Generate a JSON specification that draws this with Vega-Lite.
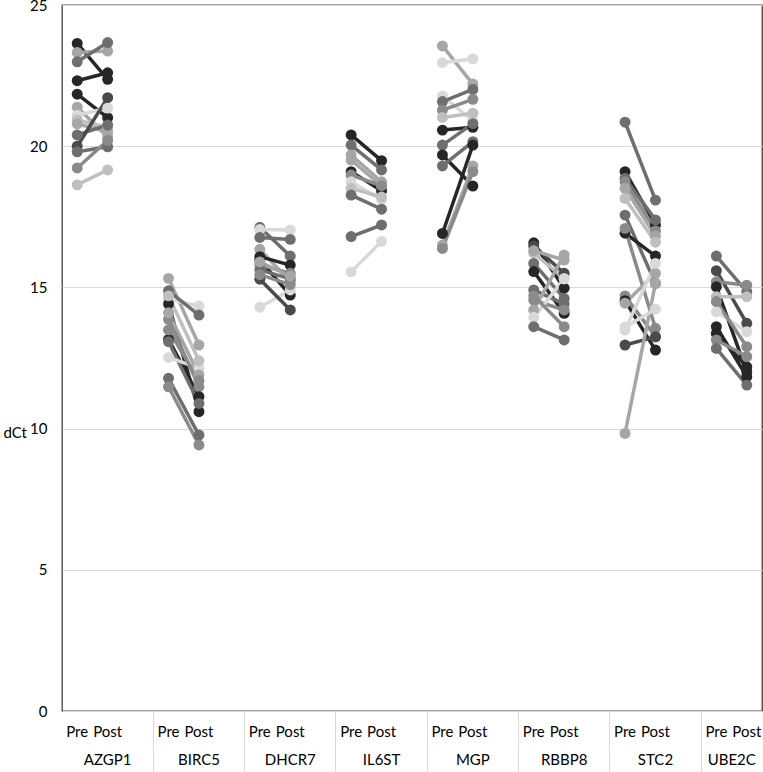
{
  "$schema": "https://vega.github.io/schema/vega-lite/v6.json",
  "autosize": {"type": "none"},
  "width": 700,
  "height": 706,
  "padding": {"left": 62, "top": 5, "right": 1, "bottom": 61},
  "background": "white",
  "config": {"view": {"stroke": "#404040", "strokeWidth": 1.3}, "font": "Lato"},
  "data": {"values": [
    {"g":"AZGP1","p":"P01","s":"AZGP1 Pre","v":23.64},{"g":"AZGP1","p":"P01","s":"AZGP1 Post","v":22.37},
    {"g":"AZGP1","p":"P12","s":"AZGP1 Pre","v":23.32},{"g":"AZGP1","p":"P12","s":"AZGP1 Post","v":23.37},
    {"g":"AZGP1","p":"P06","s":"AZGP1 Pre","v":22.99},{"g":"AZGP1","p":"P06","s":"AZGP1 Post","v":23.67},
    {"g":"AZGP1","p":"P02","s":"AZGP1 Pre","v":22.32},{"g":"AZGP1","p":"P02","s":"AZGP1 Post","v":22.6},
    {"g":"AZGP1","p":"P03","s":"AZGP1 Pre","v":21.84},{"g":"AZGP1","p":"P03","s":"AZGP1 Post","v":21.01},
    {"g":"AZGP1","p":"P13","s":"AZGP1 Pre","v":21.38},{"g":"AZGP1","p":"P13","s":"AZGP1 Post","v":20.33},
    {"g":"AZGP1","p":"P17","s":"AZGP1 Pre","v":21.1},{"g":"AZGP1","p":"P17","s":"AZGP1 Post","v":21.35},
    {"g":"AZGP1","p":"P15","s":"AZGP1 Pre","v":20.93},{"g":"AZGP1","p":"P15","s":"AZGP1 Post","v":20.66},
    {"g":"AZGP1","p":"P14","s":"AZGP1 Pre","v":20.79},{"g":"AZGP1","p":"P14","s":"AZGP1 Post","v":20.51},
    {"g":"AZGP1","p":"P07","s":"AZGP1 Pre","v":20.4},{"g":"AZGP1","p":"P07","s":"AZGP1 Post","v":20.75},
    {"g":"AZGP1","p":"P04","s":"AZGP1 Pre","v":20.0},{"g":"AZGP1","p":"P04","s":"AZGP1 Post","v":21.72},
    {"g":"AZGP1","p":"P08","s":"AZGP1 Pre","v":19.8},{"g":"AZGP1","p":"P08","s":"AZGP1 Post","v":19.98},
    {"g":"AZGP1","p":"P09","s":"AZGP1 Pre","v":19.23},{"g":"AZGP1","p":"P09","s":"AZGP1 Post","v":20.2},
    {"g":"AZGP1","p":"P16","s":"AZGP1 Pre","v":18.63},{"g":"AZGP1","p":"P16","s":"AZGP1 Post","v":19.16},

    {"g":"BIRC5","p":"P12","s":"BIRC5 Pre","v":15.32},{"g":"BIRC5","p":"P12","s":"BIRC5 Post","v":12.96},
    {"g":"BIRC5","p":"P17","s":"BIRC5 Pre","v":14.58},{"g":"BIRC5","p":"P17","s":"BIRC5 Post","v":14.34},
    {"g":"BIRC5","p":"P06","s":"BIRC5 Pre","v":14.88},{"g":"BIRC5","p":"P06","s":"BIRC5 Post","v":14.02},
    {"g":"BIRC5","p":"P01","s":"BIRC5 Pre","v":14.41},{"g":"BIRC5","p":"P01","s":"BIRC5 Post","v":10.6},
    {"g":"BIRC5","p":"P09","s":"BIRC5 Pre","v":13.87},{"g":"BIRC5","p":"P09","s":"BIRC5 Post","v":11.48},
    {"g":"BIRC5","p":"P02","s":"BIRC5 Pre","v":13.16},{"g":"BIRC5","p":"P02","s":"BIRC5 Post","v":11.13},
    {"g":"BIRC5","p":"P07","s":"BIRC5 Pre","v":13.08},{"g":"BIRC5","p":"P07","s":"BIRC5 Post","v":10.89},
    {"g":"BIRC5","p":"P18","s":"BIRC5 Pre","v":12.52},{"g":"BIRC5","p":"P18","s":"BIRC5 Post","v":12.14},
    {"g":"BIRC5","p":"P08","s":"BIRC5 Pre","v":11.78},{"g":"BIRC5","p":"P08","s":"BIRC5 Post","v":9.77},
    {"g":"BIRC5","p":"P10","s":"BIRC5 Pre","v":11.48},{"g":"BIRC5","p":"P10","s":"BIRC5 Post","v":9.42},
    {"g":"BIRC5","p":"P13","s":"BIRC5 Pre","v":14.1},{"g":"BIRC5","p":"P13","s":"BIRC5 Post","v":11.9},
    {"g":"BIRC5","p":"P11","s":"BIRC5 Pre","v":13.5},{"g":"BIRC5","p":"P11","s":"BIRC5 Post","v":11.7},
    {"g":"BIRC5","p":"P15","s":"BIRC5 Pre","v":14.7},{"g":"BIRC5","p":"P15","s":"BIRC5 Post","v":12.4},

    {"g":"DHCR7","p":"P06","s":"DHCR7 Pre","v":17.13},{"g":"DHCR7","p":"P06","s":"DHCR7 Post","v":16.11},
    {"g":"DHCR7","p":"P17","s":"DHCR7 Pre","v":17.05},{"g":"DHCR7","p":"P17","s":"DHCR7 Post","v":17.03},
    {"g":"DHCR7","p":"P07","s":"DHCR7 Pre","v":16.77},{"g":"DHCR7","p":"P07","s":"DHCR7 Post","v":16.7},
    {"g":"DHCR7","p":"P12","s":"DHCR7 Pre","v":16.35},{"g":"DHCR7","p":"P12","s":"DHCR7 Post","v":15.2},
    {"g":"DHCR7","p":"P01","s":"DHCR7 Pre","v":16.09},{"g":"DHCR7","p":"P01","s":"DHCR7 Post","v":15.79},
    {"g":"DHCR7","p":"P02","s":"DHCR7 Pre","v":15.97},{"g":"DHCR7","p":"P02","s":"DHCR7 Post","v":14.73},
    {"g":"DHCR7","p":"P09","s":"DHCR7 Pre","v":15.79},{"g":"DHCR7","p":"P09","s":"DHCR7 Post","v":15.5},
    {"g":"DHCR7","p":"P18","s":"DHCR7 Pre","v":14.3},{"g":"DHCR7","p":"P18","s":"DHCR7 Post","v":14.91},
    {"g":"DHCR7","p":"P08","s":"DHCR7 Pre","v":15.62},{"g":"DHCR7","p":"P08","s":"DHCR7 Post","v":15.3},
    {"g":"DHCR7","p":"P04","s":"DHCR7 Pre","v":15.29},{"g":"DHCR7","p":"P04","s":"DHCR7 Post","v":14.2},
    {"g":"DHCR7","p":"P10","s":"DHCR7 Pre","v":15.45},{"g":"DHCR7","p":"P10","s":"DHCR7 Post","v":15.1},
    {"g":"DHCR7","p":"P13","s":"DHCR7 Pre","v":15.9},{"g":"DHCR7","p":"P13","s":"DHCR7 Post","v":15.4},

    {"g":"IL6ST","p":"P01","s":"IL6ST Pre","v":20.4},{"g":"IL6ST","p":"P01","s":"IL6ST Post","v":19.49},
    {"g":"IL6ST","p":"P06","s":"IL6ST Pre","v":20.04},{"g":"IL6ST","p":"P06","s":"IL6ST Post","v":19.16},
    {"g":"IL6ST","p":"P12","s":"IL6ST Pre","v":19.69},{"g":"IL6ST","p":"P12","s":"IL6ST Post","v":18.74},
    {"g":"IL6ST","p":"P13","s":"IL6ST Pre","v":19.51},{"g":"IL6ST","p":"P13","s":"IL6ST Post","v":18.59},
    {"g":"IL6ST","p":"P02","s":"IL6ST Pre","v":19.1},{"g":"IL6ST","p":"P02","s":"IL6ST Post","v":18.42},
    {"g":"IL6ST","p":"P09","s":"IL6ST Pre","v":18.98},{"g":"IL6ST","p":"P09","s":"IL6ST Post","v":18.6},
    {"g":"IL6ST","p":"P17","s":"IL6ST Pre","v":18.74},{"g":"IL6ST","p":"P17","s":"IL6ST Post","v":18.1},
    {"g":"IL6ST","p":"P15","s":"IL6ST Pre","v":18.51},{"g":"IL6ST","p":"P15","s":"IL6ST Post","v":18.2},
    {"g":"IL6ST","p":"P07","s":"IL6ST Pre","v":18.27},{"g":"IL6ST","p":"P07","s":"IL6ST Post","v":17.77},
    {"g":"IL6ST","p":"P08","s":"IL6ST Pre","v":16.8},{"g":"IL6ST","p":"P08","s":"IL6ST Post","v":17.21},
    {"g":"IL6ST","p":"P18","s":"IL6ST Pre","v":15.55},{"g":"IL6ST","p":"P18","s":"IL6ST Post","v":16.63},

    {"g":"MGP","p":"P12","s":"MGP Pre","v":23.55},{"g":"MGP","p":"P12","s":"MGP Post","v":22.2},
    {"g":"MGP","p":"P17","s":"MGP Pre","v":22.96},{"g":"MGP","p":"P17","s":"MGP Post","v":23.09},
    {"g":"MGP","p":"P18","s":"MGP Pre","v":21.78},{"g":"MGP","p":"P18","s":"MGP Post","v":20.9},
    {"g":"MGP","p":"P06","s":"MGP Pre","v":21.58},{"g":"MGP","p":"P06","s":"MGP Post","v":22.01},
    {"g":"MGP","p":"P09","s":"MGP Pre","v":21.28},{"g":"MGP","p":"P09","s":"MGP Post","v":21.66},
    {"g":"MGP","p":"P15","s":"MGP Pre","v":21.02},{"g":"MGP","p":"P15","s":"MGP Post","v":21.17},
    {"g":"MGP","p":"P01","s":"MGP Pre","v":20.57},{"g":"MGP","p":"P01","s":"MGP Post","v":20.67},
    {"g":"MGP","p":"P07","s":"MGP Pre","v":20.04},{"g":"MGP","p":"P07","s":"MGP Post","v":20.8},
    {"g":"MGP","p":"P02","s":"MGP Pre","v":19.69},{"g":"MGP","p":"P02","s":"MGP Post","v":18.59},
    {"g":"MGP","p":"P08","s":"MGP Pre","v":19.3},{"g":"MGP","p":"P08","s":"MGP Post","v":20.16},
    {"g":"MGP","p":"P03","s":"MGP Pre","v":16.91},{"g":"MGP","p":"P03","s":"MGP Post","v":20.04},
    {"g":"MGP","p":"P13","s":"MGP Pre","v":16.5},{"g":"MGP","p":"P13","s":"MGP Post","v":19.3},
    {"g":"MGP","p":"P10","s":"MGP Pre","v":16.38},{"g":"MGP","p":"P10","s":"MGP Post","v":19.1},

    {"g":"RBBP8","p":"P01","s":"RBBP8 Pre","v":16.58},{"g":"RBBP8","p":"P01","s":"RBBP8 Post","v":14.97},
    {"g":"RBBP8","p":"P04","s":"RBBP8 Pre","v":16.47},{"g":"RBBP8","p":"P04","s":"RBBP8 Post","v":15.5},
    {"g":"RBBP8","p":"P15","s":"RBBP8 Pre","v":16.21},{"g":"RBBP8","p":"P15","s":"RBBP8 Post","v":15.32},
    {"g":"RBBP8","p":"P06","s":"RBBP8 Pre","v":15.85},{"g":"RBBP8","p":"P06","s":"RBBP8 Post","v":14.61},
    {"g":"RBBP8","p":"P02","s":"RBBP8 Pre","v":15.56},{"g":"RBBP8","p":"P02","s":"RBBP8 Post","v":14.08},
    {"g":"RBBP8","p":"P07","s":"RBBP8 Pre","v":14.91},{"g":"RBBP8","p":"P07","s":"RBBP8 Post","v":14.41},
    {"g":"RBBP8","p":"P09","s":"RBBP8 Pre","v":14.55},{"g":"RBBP8","p":"P09","s":"RBBP8 Post","v":14.2},
    {"g":"RBBP8","p":"P13","s":"RBBP8 Pre","v":14.2},{"g":"RBBP8","p":"P13","s":"RBBP8 Post","v":16.15},
    {"g":"RBBP8","p":"P17","s":"RBBP8 Pre","v":13.94},{"g":"RBBP8","p":"P17","s":"RBBP8 Post","v":15.3},
    {"g":"RBBP8","p":"P08","s":"RBBP8 Pre","v":13.61},{"g":"RBBP8","p":"P08","s":"RBBP8 Post","v":13.14},
    {"g":"RBBP8","p":"P10","s":"RBBP8 Pre","v":14.7},{"g":"RBBP8","p":"P10","s":"RBBP8 Post","v":13.61},
    {"g":"RBBP8","p":"P14","s":"RBBP8 Pre","v":16.3},{"g":"RBBP8","p":"P14","s":"RBBP8 Post","v":15.97},

    {"g":"STC2","p":"P06","s":"STC2 Pre","v":20.85},{"g":"STC2","p":"P06","s":"STC2 Post","v":18.09},
    {"g":"STC2","p":"P01","s":"STC2 Pre","v":19.1},{"g":"STC2","p":"P01","s":"STC2 Post","v":17.21},
    {"g":"STC2","p":"P07","s":"STC2 Pre","v":18.86},{"g":"STC2","p":"P07","s":"STC2 Post","v":17.39},
    {"g":"STC2","p":"P09","s":"STC2 Pre","v":18.74},{"g":"STC2","p":"P09","s":"STC2 Post","v":17.0},
    {"g":"STC2","p":"P12","s":"STC2 Pre","v":18.51},{"g":"STC2","p":"P12","s":"STC2 Post","v":16.82},
    {"g":"STC2","p":"P15","s":"STC2 Pre","v":18.15},{"g":"STC2","p":"P15","s":"STC2 Post","v":16.6},
    {"g":"STC2","p":"P08","s":"STC2 Pre","v":17.56},{"g":"STC2","p":"P08","s":"STC2 Post","v":15.14},
    {"g":"STC2","p":"P02","s":"STC2 Pre","v":16.92},{"g":"STC2","p":"P02","s":"STC2 Post","v":16.11},
    {"g":"STC2","p":"P10","s":"STC2 Pre","v":17.09},{"g":"STC2","p":"P10","s":"STC2 Post","v":13.55},
    {"g":"STC2","p":"P11","s":"STC2 Pre","v":14.7},{"g":"STC2","p":"P11","s":"STC2 Post","v":13.25},
    {"g":"STC2","p":"P03","s":"STC2 Pre","v":14.53},{"g":"STC2","p":"P03","s":"STC2 Post","v":12.78},
    {"g":"STC2","p":"P13","s":"STC2 Pre","v":14.44},{"g":"STC2","p":"P13","s":"STC2 Post","v":15.5},
    {"g":"STC2","p":"P17","s":"STC2 Pre","v":13.49},{"g":"STC2","p":"P17","s":"STC2 Post","v":15.85},
    {"g":"STC2","p":"P04","s":"STC2 Pre","v":12.96},{"g":"STC2","p":"P04","s":"STC2 Post","v":13.25},
    {"g":"STC2","p":"P14","s":"STC2 Pre","v":9.83},{"g":"STC2","p":"P14","s":"STC2 Post","v":15.14},
    {"g":"STC2","p":"P18","s":"STC2 Pre","v":13.6},{"g":"STC2","p":"P18","s":"STC2 Post","v":14.23},

    {"g":"UBE2C","p":"P06","s":"UBE2C Pre","v":16.11},{"g":"UBE2C","p":"P06","s":"UBE2C Post","v":14.85},
    {"g":"UBE2C","p":"P04","s":"UBE2C Pre","v":15.59},{"g":"UBE2C","p":"P04","s":"UBE2C Post","v":13.73},
    {"g":"UBE2C","p":"P09","s":"UBE2C Pre","v":15.2},{"g":"UBE2C","p":"P09","s":"UBE2C Post","v":15.08},
    {"g":"UBE2C","p":"P01","s":"UBE2C Pre","v":15.02},{"g":"UBE2C","p":"P01","s":"UBE2C Post","v":12.01},
    {"g":"UBE2C","p":"P15","s":"UBE2C Pre","v":14.67},{"g":"UBE2C","p":"P15","s":"UBE2C Post","v":14.67},
    {"g":"UBE2C","p":"P17","s":"UBE2C Pre","v":14.14},{"g":"UBE2C","p":"P17","s":"UBE2C Post","v":13.43},
    {"g":"UBE2C","p":"P02","s":"UBE2C Pre","v":13.61},{"g":"UBE2C","p":"P02","s":"UBE2C Post","v":11.84},
    {"g":"UBE2C","p":"P03","s":"UBE2C Pre","v":13.37},{"g":"UBE2C","p":"P03","s":"UBE2C Post","v":12.19},
    {"g":"UBE2C","p":"P10","s":"UBE2C Pre","v":13.14},{"g":"UBE2C","p":"P10","s":"UBE2C Post","v":12.55},
    {"g":"UBE2C","p":"P07","s":"UBE2C Pre","v":12.84},{"g":"UBE2C","p":"P07","s":"UBE2C Post","v":11.54},
    {"g":"UBE2C","p":"P11","s":"UBE2C Pre","v":14.5},{"g":"UBE2C","p":"P11","s":"UBE2C Post","v":12.9}
  ]},
  "encoding": {
    "y": {"field": "v", "type": "quantitative",
      "scale": {"domain": [0, 25], "nice": false, "zero": true},
      "axis": {"title": "dCt", "titleAngle": 0, "titleFont": "Lato", "titleFontSize": 15, "titleFontWeight": "normal", "titleColor": "#000000",
        "titleAlign": "left", "titleBaseline": "middle", "titleX": -59, "titleY": 427,
        "values": [0, 5, 10, 15, 20, 25], "grid": true, "gridColor": "#d9d9d9", "gridWidth": 1,
        "domain": false, "ticks": false, "labelFont": "Lato", "labelFontSize": 15, "labelPadding": 15, "labelColor": "#000000"}},
    "color": {"field": "p", "type": "nominal", "legend": null,
      "scale": {"domain": ["P01","P02","P03","P04","P05","P06","P07","P08","P09","P10","P11","P12","P13","P14","P15","P16","P17","P18"],
        "range": ["#262626","#262626","#262626","#4a4a4a","#4a4a4a","#6e6e6e","#6e6e6e","#6e6e6e","#8a8a8a","#8a8a8a","#8a8a8a","#a6a6a6","#a6a6a6","#a6a6a6","#bfbfbf","#bfbfbf","#d9d9d9","#d9d9d9"]}},
    "detail": {"field": "g", "type": "nominal"}
  },
  "layer": [
    {
      "mark": {"type": "line", "strokeWidth": 3.5},
      "encoding": {
        "x": {"field": "s", "type": "ordinal",
          "scale": {"type": "band", "paddingInner": 0, "paddingOuter": 0,
            "domain": ["AZGP1 Pre","AZGP1 Post","AZGP1 _","BIRC5 Pre","BIRC5 Post","BIRC5 _","DHCR7 Pre","DHCR7 Post","DHCR7 _","IL6ST Pre","IL6ST Post","IL6ST _","MGP Pre","MGP Post","MGP _","RBBP8 Pre","RBBP8 Post","RBBP8 _","STC2 Pre","STC2 Post","STC2 _","UBE2C Pre","UBE2C Post"]},
          "axis": {"orient": "bottom", "title": null, "domain": false, "grid": false, "bandPosition": 0,
            "tickSize": 61, "tickWidth": 1,
            "tickColor": {"condition": {"test": "indexof(datum.value, ' Pre') > 0 && datum.value != 'AZGP1 Pre'", "value": "#d9d9d9"}, "value": "transparent"},
            "labelExpr": "indexof(datum.value, ' _') > 0 ? '' : split(datum.value, ' ')[1]",
            "labelFont": "Lato", "labelFontSize": 15, "labelColor": "#000000", "labelAngle": 0,
            "labelBaseline": "alphabetic", "labelPadding": -36, "labelOverlap": false, "labelBound": false, "labelFlush": false}}
      }
    },
    {
      "mark": {"type": "point", "filled": true, "opacity": 1, "size": 120},
      "encoding": {
        "x": {"field": "s", "type": "ordinal",
          "scale": {"type": "band", "paddingInner": 0, "paddingOuter": 0,
            "domain": ["AZGP1 Pre","AZGP1 Post","AZGP1 _","BIRC5 Pre","BIRC5 Post","BIRC5 _","DHCR7 Pre","DHCR7 Post","DHCR7 _","IL6ST Pre","IL6ST Post","IL6ST _","MGP Pre","MGP Post","MGP _","RBBP8 Pre","RBBP8 Post","RBBP8 _","STC2 Pre","STC2 Post","STC2 _","UBE2C Pre","UBE2C Post"]},
          "axis": {"orient": "bottom", "title": null, "domain": false, "grid": false, "ticks": false,
            "labelExpr": "split(datum.value, ' ')[1] == 'Post' ? split(datum.value, ' ')[0] : ''",
            "labelOffset": {"condition": {"test": "datum.value == 'UBE2C Post'", "value": -15}, "value": 0},
            "labelFont": "Lato", "labelFontSize": 15, "labelColor": "#000000", "labelAngle": 0,
            "labelBaseline": "alphabetic", "labelPadding": 53, "labelOverlap": false, "labelBound": false, "labelFlush": false}}
      }
    }
  ],
  "resolve": {"axis": {"x": "independent"}}
}
